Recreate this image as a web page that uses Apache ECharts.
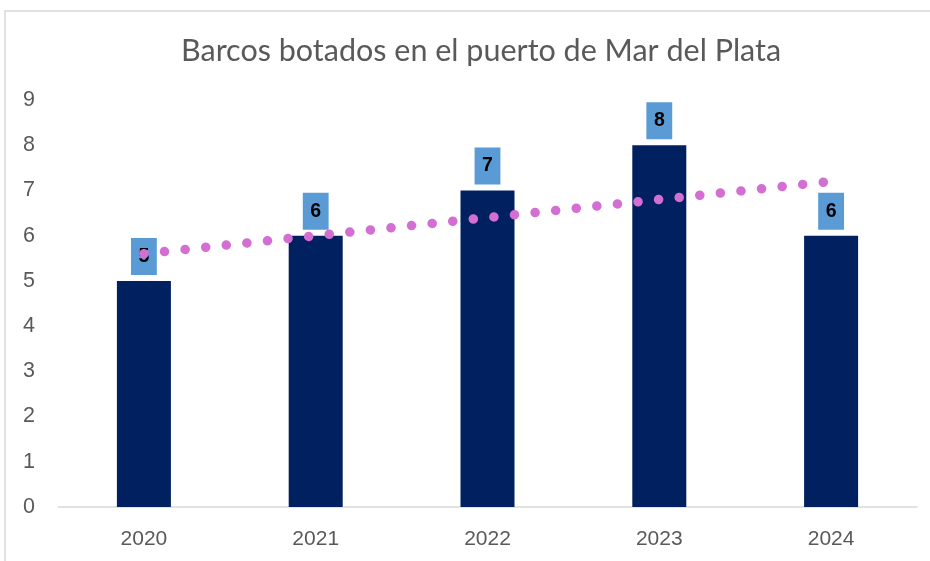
<!DOCTYPE html>
<html><head><meta charset="utf-8">
<script src="https://cdn.jsdelivr.net/npm/echarts@6/dist/echarts.min.js"></script>
<style>html,body{margin:0;padding:0;background:#fff}#c{width:930px;height:561px}</style>
</head><body><div id="c"></div>
<script>
const categories = ['2020','2021','2022','2023','2024'];
const barcos = [5, 6, 7, 8, 6];
const tendencia = [5.6, 6.0, 6.4, 6.8, 7.2];
const titleText = 'Barcos botados en el puerto de Mar del Plata';

const chart = echarts.init(document.getElementById('c'), null, {renderer:'canvas'});
chart.setOption({
  backgroundColor: '#fff',
  animation: false,
  graphic: [{type:'rect', shape:{x:5, y:11, width:940, height:560}, style:{fill:'none', stroke:'#d9d9d9', lineWidth:1.5}, z:-1}],
  title: {text: titleText, left: 176, top: 31,
    textStyle:{fontFamily:'Lato', fontWeight:'normal', fontSize:30.5, color:'#595959'}},
  grid: {left: 58, right: 13, top: 100, bottom: 54},
  xAxis: {type:'category', data: categories,
    axisLine:{lineStyle:{color:'#d9d9d9', width:1.5}}, axisTick:{show:false},
    axisLabel:{fontFamily:'Liberation Sans', fontSize:21, color:'#595959', margin:22}},
  yAxis: {type:'value', min:0, max:9, interval:1,
    splitLine:{show:false}, axisLine:{show:false}, axisTick:{show:false},
    axisLabel:{fontFamily:'Liberation Sans', fontSize:21.5, color:'#595959', margin:23, align:'right'}},
  series: [
    {type:'bar', data: barcos, barWidth: 54, itemStyle:{color:'#002060'}, z:2,
     label:{show:true, position:'top', distance:6, backgroundColor:'#5B9BD5',
       color:'#000', fontWeight:'bold', fontFamily:'Liberation Sans', fontSize:19.5, lineHeight:21, padding:[8,7.5,8,7.5]}},
    {type:'line', data: tendencia, symbol:'none', z:5,
     lineStyle:{color:'#D36FD3', width:9.5, type:[0.1, 20.6], cap:'round'}}
  ]
});
</script></body></html>
